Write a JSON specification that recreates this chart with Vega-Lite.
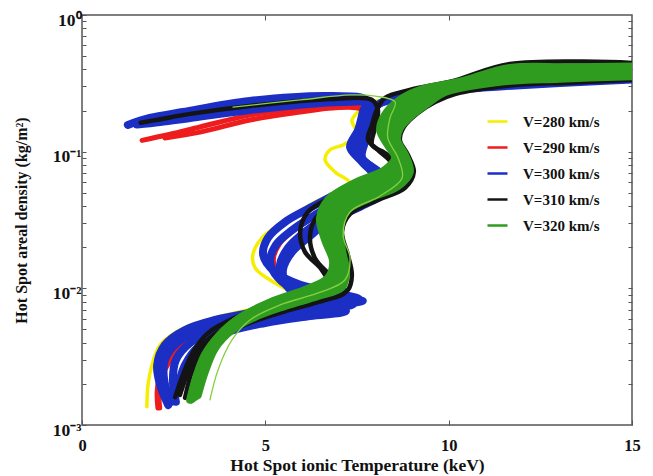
{
"$schema":"https://vega.github.io/schema/vega-lite/v6.json",
"width":550,"height":410,
"autosize":{"type":"none"},
"padding":{"left":82,"top":15,"right":21,"bottom":51},
"background":"white",
"config":{
 "view":{"stroke":"#555","strokeWidth":1.5},
 "axis":{"labelFont":"Liberation Serif","titleFont":"Liberation Serif","labelFontWeight":"bold","titleFontWeight":"bold","labelColor":"#111","titleColor":"#111","tickColor":"#555","grid":false,"domain":false},
 "legend":{"labelFont":"Liberation Serif","labelFontWeight":"bold","labelFontSize":15,"labelColor":"#111"}
},
"data":{"values":[
{"run":"Y1","V":"V=280 km/s","i":1,"T":1.77,"rho":0.00136},
{"run":"Y1","V":"V=280 km/s","i":2,"T":1.80,"rho":0.00196},
{"run":"Y1","V":"V=280 km/s","i":3,"T":1.91,"rho":0.00275},
{"run":"Y1","V":"V=280 km/s","i":4,"T":2.13,"rho":0.00385},
{"run":"Y1","V":"V=280 km/s","i":5,"T":2.67,"rho":0.00496},
{"run":"Y1","V":"V=280 km/s","i":6,"T":3.63,"rho":0.00608},
{"run":"Y1","V":"V=280 km/s","i":7,"T":4.85,"rho":0.00719},
{"run":"Y1","V":"V=280 km/s","i":8,"T":5.95,"rho":0.00795},
{"run":"Y1","V":"V=280 km/s","i":9,"T":6.63,"rho":0.0085},
{"run":"Y1","V":"V=280 km/s","i":10,"T":6.22,"rho":0.00895},
{"run":"Y1","V":"V=280 km/s","i":11,"T":5.86,"rho":0.00925},
{"run":"Y1","V":"V=280 km/s","i":12,"T":5.26,"rho":0.01095},
{"run":"Y1","V":"V=280 km/s","i":13,"T":4.72,"rho":0.0141},
{"run":"Y1","V":"V=280 km/s","i":14,"T":4.66,"rho":0.0176},
{"run":"Y1","V":"V=280 km/s","i":15,"T":4.91,"rho":0.0234},
{"run":"Y1","V":"V=280 km/s","i":16,"T":5.59,"rho":0.0317},
{"run":"Y1","V":"V=280 km/s","i":17,"T":6.22,"rho":0.0408},
{"run":"Y1","V":"V=280 km/s","i":18,"T":6.90,"rho":0.0507},
{"run":"Y1","V":"V=280 km/s","i":19,"T":7.31,"rho":0.059},
{"run":"Y1","V":"V=280 km/s","i":20,"T":6.90,"rho":0.0711},
{"run":"Y1","V":"V=280 km/s","i":21,"T":6.63,"rho":0.0869},
{"run":"Y1","V":"V=280 km/s","i":22,"T":6.76,"rho":0.103},
{"run":"Y1","V":"V=280 km/s","i":23,"T":7.15,"rho":0.113},
{"run":"Y1","V":"V=280 km/s","i":24,"T":7.50,"rho":0.135},
{"run":"Y1","V":"V=280 km/s","i":25,"T":7.36,"rho":0.168},
{"run":"Y1","V":"V=280 km/s","i":26,"T":7.48,"rho":0.19},
{"run":"Y1","V":"V=280 km/s","i":27,"T":7.80,"rho":0.225},
{"run":"Y1","V":"V=280 km/s","i":28,"T":8.60,"rho":0.245},
{"run":"Y1","V":"V=280 km/s","i":29,"T":9.60,"rho":0.28},
{"run":"Y1","V":"V=280 km/s","i":30,"T":11.40,"rho":0.33},
{"run":"Y1","V":"V=280 km/s","i":31,"T":15.0,"rho":0.370},
{"run":"R1","V":"V=290 km/s","i":1,"T":2.07,"rho":0.00133},
{"run":"R1","V":"V=290 km/s","i":2,"T":2.05,"rho":0.00175},
{"run":"R1","V":"V=290 km/s","i":3,"T":2.13,"rho":0.00232},
{"run":"R1","V":"V=290 km/s","i":4,"T":2.54,"rho":0.00354},
{"run":"R1","V":"V=290 km/s","i":5,"T":3.22,"rho":0.00472},
{"run":"R1","V":"V=290 km/s","i":6,"T":4.31,"rho":0.00587},
{"run":"R1","V":"V=290 km/s","i":7,"T":5.67,"rho":0.00756},
{"run":"R1","V":"V=290 km/s","i":8,"T":6.35,"rho":0.0091},
{"run":"R1","V":"V=290 km/s","i":9,"T":6.68,"rho":0.00973},
{"run":"R1","V":"V=290 km/s","i":10,"T":5.85,"rho":0.0100},
{"run":"R1","V":"V=290 km/s","i":11,"T":5.38,"rho":0.0121},
{"run":"R1","V":"V=290 km/s","i":12,"T":5.17,"rho":0.0158},
{"run":"R1","V":"V=290 km/s","i":13,"T":5.33,"rho":0.021},
{"run":"R1","V":"V=290 km/s","i":14,"T":5.77,"rho":0.027},
{"run":"R1","V":"V=290 km/s","i":15,"T":6.40,"rho":0.0346},
{"run":"R1","V":"V=290 km/s","i":16,"T":7.20,"rho":0.046},
{"run":"R1","V":"V=290 km/s","i":17,"T":8.00,"rho":0.0635},
{"run":"R1","V":"V=290 km/s","i":18,"T":7.75,"rho":0.080},
{"run":"R1","V":"V=290 km/s","i":19,"T":7.40,"rho":0.103},
{"run":"R1","V":"V=290 km/s","i":20,"T":7.60,"rho":0.1325},
{"run":"R1","V":"V=290 km/s","i":21,"T":7.75,"rho":0.1765},
{"run":"R1","V":"V=290 km/s","i":22,"T":7.80,"rho":0.215},
{"run":"R1","V":"V=290 km/s","i":23,"T":6.84,"rho":0.219},
{"run":"R1","V":"V=290 km/s","i":24,"T":5.95,"rho":0.209},
{"run":"R1","V":"V=290 km/s","i":25,"T":4.58,"rho":0.185},
{"run":"R1","V":"V=290 km/s","i":26,"T":3.22,"rho":0.1516},
{"run":"R1","V":"V=290 km/s","i":27,"T":2.40,"rho":0.134},
{"run":"R1","V":"V=290 km/s","i":28,"T":1.64,"rho":0.121},
{"run":"R2","V":"V=290 km/s","i":1,"T":2.12,"rho":0.00133},
{"run":"R2","V":"V=290 km/s","i":2,"T":2.10,"rho":0.00175},
{"run":"R2","V":"V=290 km/s","i":3,"T":2.20,"rho":0.00232},
{"run":"R2","V":"V=290 km/s","i":4,"T":2.62,"rho":0.00354},
{"run":"R2","V":"V=290 km/s","i":5,"T":3.30,"rho":0.00472},
{"run":"R2","V":"V=290 km/s","i":6,"T":4.40,"rho":0.00587},
{"run":"R2","V":"V=290 km/s","i":7,"T":5.75,"rho":0.00756},
{"run":"R2","V":"V=290 km/s","i":8,"T":6.40,"rho":0.0089},
{"run":"R2","V":"V=290 km/s","i":9,"T":6.72,"rho":0.0096},
{"run":"R2","V":"V=290 km/s","i":10,"T":5.90,"rho":0.0101},
{"run":"R2","V":"V=290 km/s","i":11,"T":5.43,"rho":0.0122},
{"run":"R2","V":"V=290 km/s","i":12,"T":5.22,"rho":0.0159},
{"run":"R2","V":"V=290 km/s","i":13,"T":5.38,"rho":0.0211},
{"run":"R2","V":"V=290 km/s","i":14,"T":5.82,"rho":0.0271},
{"run":"R2","V":"V=290 km/s","i":15,"T":6.45,"rho":0.0347},
{"run":"R2","V":"V=290 km/s","i":16,"T":7.25,"rho":0.0461},
{"run":"R2","V":"V=290 km/s","i":17,"T":8.05,"rho":0.0636},
{"run":"R2","V":"V=290 km/s","i":18,"T":7.80,"rho":0.080},
{"run":"R2","V":"V=290 km/s","i":19,"T":7.45,"rho":0.103},
{"run":"R2","V":"V=290 km/s","i":20,"T":7.65,"rho":0.1325},
{"run":"R2","V":"V=290 km/s","i":21,"T":7.75,"rho":0.17},
{"run":"R2","V":"V=290 km/s","i":22,"T":7.60,"rho":0.205},
{"run":"R2","V":"V=290 km/s","i":23,"T":6.84,"rho":0.209},
{"run":"R2","V":"V=290 km/s","i":24,"T":5.95,"rho":0.195},
{"run":"R2","V":"V=290 km/s","i":25,"T":4.58,"rho":0.1705},
{"run":"R2","V":"V=290 km/s","i":26,"T":3.22,"rho":0.139},
{"run":"R2","V":"V=290 km/s","i":27,"T":2.26,"rho":0.126},
{"run":"B1","V":"V=300 km/s","i":1,"T":2.35,"rho":0.0014},
{"run":"B1","V":"V=300 km/s","i":2,"T":2.13,"rho":0.00196},
{"run":"B1","V":"V=300 km/s","i":3,"T":2.05,"rho":0.00275},
{"run":"B1","V":"V=300 km/s","i":4,"T":2.26,"rho":0.00385},
{"run":"B1","V":"V=300 km/s","i":5,"T":2.81,"rho":0.00496},
{"run":"B1","V":"V=300 km/s","i":6,"T":3.63,"rho":0.00587},
{"run":"B1","V":"V=300 km/s","i":7,"T":4.58,"rho":0.0066},
{"run":"B1","V":"V=300 km/s","i":8,"T":5.95,"rho":0.00756},
{"run":"B1","V":"V=300 km/s","i":9,"T":7.04,"rho":0.00822},
{"run":"B1","V":"V=300 km/s","i":10,"T":7.55,"rho":0.00836},
{"run":"B1","V":"V=300 km/s","i":11,"T":7.04,"rho":0.0091},
{"run":"B1","V":"V=300 km/s","i":12,"T":5.95,"rho":0.0106},
{"run":"B1","V":"V=300 km/s","i":13,"T":5.26,"rho":0.0132},
{"run":"B1","V":"V=300 km/s","i":14,"T":4.94,"rho":0.0176},
{"run":"B1","V":"V=300 km/s","i":15,"T":5.07,"rho":0.0234},
{"run":"B1","V":"V=300 km/s","i":16,"T":5.54,"rho":0.0306},
{"run":"B1","V":"V=300 km/s","i":17,"T":6.22,"rho":0.0388},
{"run":"B1","V":"V=300 km/s","i":18,"T":7.04,"rho":0.0507},
{"run":"B1","V":"V=300 km/s","i":19,"T":7.91,"rho":0.0676},
{"run":"B1","V":"V=300 km/s","i":20,"T":7.64,"rho":0.084},
{"run":"B1","V":"V=300 km/s","i":21,"T":7.31,"rho":0.108},
{"run":"B1","V":"V=300 km/s","i":22,"T":7.53,"rho":0.144},
{"run":"B1","V":"V=300 km/s","i":23,"T":7.66,"rho":0.195},
{"run":"B1","V":"V=300 km/s","i":24,"T":7.74,"rho":0.239},
{"run":"B1","V":"V=300 km/s","i":25,"T":6.84,"rho":0.255},
{"run":"B1","V":"V=300 km/s","i":26,"T":4.58,"rho":0.235},
{"run":"B1","V":"V=300 km/s","i":27,"T":2.75,"rho":0.195},
{"run":"B1","V":"V=300 km/s","i":28,"T":1.85,"rho":0.1765},
{"run":"B1","V":"V=300 km/s","i":29,"T":1.25,"rho":0.157},
{"run":"B2","V":"V=300 km/s","i":1,"T":2.40,"rho":0.00153},
{"run":"B2","V":"V=300 km/s","i":2,"T":2.24,"rho":0.00214},
{"run":"B2","V":"V=300 km/s","i":3,"T":2.26,"rho":0.00299},
{"run":"B2","V":"V=300 km/s","i":4,"T":2.62,"rho":0.00405},
{"run":"B2","V":"V=300 km/s","i":5,"T":3.35,"rho":0.00513},
{"run":"B2","V":"V=300 km/s","i":6,"T":4.72,"rho":0.00608},
{"run":"B2","V":"V=300 km/s","i":7,"T":5.95,"rho":0.00695},
{"run":"B2","V":"V=300 km/s","i":8,"T":7.17,"rho":0.00769},
{"run":"B2","V":"V=300 km/s","i":9,"T":7.66,"rho":0.0081},
{"run":"B2","V":"V=300 km/s","i":10,"T":6.76,"rho":0.0085},
{"run":"B2","V":"V=300 km/s","i":11,"T":5.81,"rho":0.00973},
{"run":"B2","V":"V=300 km/s","i":12,"T":5.35,"rho":0.0119},
{"run":"B2","V":"V=300 km/s","i":13,"T":5.13,"rho":0.0156},
{"run":"B2","V":"V=300 km/s","i":14,"T":5.29,"rho":0.0208},
{"run":"B2","V":"V=300 km/s","i":15,"T":5.73,"rho":0.0267},
{"run":"B2","V":"V=300 km/s","i":16,"T":6.35,"rho":0.0344},
{"run":"B2","V":"V=300 km/s","i":17,"T":7.17,"rho":0.0458},
{"run":"B2","V":"V=300 km/s","i":18,"T":8.07,"rho":0.0642},
{"run":"B2","V":"V=300 km/s","i":19,"T":7.80,"rho":0.080},
{"run":"B2","V":"V=300 km/s","i":20,"T":7.42,"rho":0.103},
{"run":"B2","V":"V=300 km/s","i":21,"T":7.64,"rho":0.1325},
{"run":"B2","V":"V=300 km/s","i":22,"T":7.80,"rho":0.1765},
{"run":"B2","V":"V=300 km/s","i":23,"T":7.91,"rho":0.223},
{"run":"B2","V":"V=300 km/s","i":24,"T":7.04,"rho":0.231},
{"run":"B2","V":"V=300 km/s","i":25,"T":4.58,"rho":0.202},
{"run":"B2","V":"V=300 km/s","i":26,"T":2.95,"rho":0.1765},
{"run":"B2","V":"V=300 km/s","i":27,"T":2.13,"rho":0.165},
{"run":"B2","V":"V=300 km/s","i":28,"T":1.50,"rho":0.158},
{"run":"B4","V":"V=300 km/s","i":1,"T":2.45,"rho":0.00148},
{"run":"B4","V":"V=300 km/s","i":2,"T":2.62,"rho":0.00196},
{"run":"B4","V":"V=300 km/s","i":3,"T":2.81,"rho":0.00275},
{"run":"B4","V":"V=300 km/s","i":4,"T":3.14,"rho":0.00366},
{"run":"B4","V":"V=300 km/s","i":5,"T":3.90,"rho":0.00472},
{"run":"B4","V":"V=300 km/s","i":6,"T":4.99,"rho":0.00558},
{"run":"B4","V":"V=300 km/s","i":7,"T":6.22,"rho":0.00628},
{"run":"B4","V":"V=300 km/s","i":8,"T":7.20,"rho":0.00683},
{"run":"B4","V":"V=300 km/s","i":9,"T":6.76,"rho":0.00782},
{"run":"B4","V":"V=300 km/s","i":10,"T":5.95,"rho":0.0088},
{"run":"B4","V":"V=300 km/s","i":11,"T":5.59,"rho":0.0104},
{"run":"B4","V":"V=300 km/s","i":12,"T":5.48,"rho":0.01364},
{"run":"B4","V":"V=300 km/s","i":13,"T":5.73,"rho":0.0185},
{"run":"B4","V":"V=300 km/s","i":14,"T":6.22,"rho":0.0242},
{"run":"B4","V":"V=300 km/s","i":15,"T":6.76,"rho":0.0317},
{"run":"B4","V":"V=300 km/s","i":16,"T":7.58,"rho":0.0394},
{"run":"B4","V":"V=300 km/s","i":17,"T":8.40,"rho":0.0543},
{"run":"B4","V":"V=300 km/s","i":18,"T":8.13,"rho":0.0699},
{"run":"B4","V":"V=300 km/s","i":19,"T":7.64,"rho":0.090},
{"run":"B4","V":"V=300 km/s","i":20,"T":7.74,"rho":0.122},
{"run":"B4","V":"V=300 km/s","i":21,"T":7.91,"rho":0.165},
{"run":"B4","V":"V=300 km/s","i":22,"T":8.02,"rho":0.216},
{"run":"B4","V":"V=300 km/s","i":23,"T":8.67,"rho":0.247},
{"run":"B4","V":"V=300 km/s","i":24,"T":9.76,"rho":0.28},
{"run":"B4","V":"V=300 km/s","i":25,"T":11.40,"rho":0.33},
{"run":"B4","V":"V=300 km/s","i":26,"T":15.0,"rho":0.36},
{"run":"B3","V":"V=300 km/s","i":1,"T":2.56,"rho":0.00148},
{"run":"B3","V":"V=300 km/s","i":2,"T":2.48,"rho":0.00214},
{"run":"B3","V":"V=300 km/s","i":3,"T":2.56,"rho":0.00299},
{"run":"B3","V":"V=300 km/s","i":4,"T":2.95,"rho":0.00399},
{"run":"B3","V":"V=300 km/s","i":5,"T":3.76,"rho":0.00513},
{"run":"B3","V":"V=300 km/s","i":6,"T":4.99,"rho":0.00587},
{"run":"B3","V":"V=300 km/s","i":7,"T":6.22,"rho":0.0066},
{"run":"B3","V":"V=300 km/s","i":8,"T":7.10,"rho":0.00731},
{"run":"B3","V":"V=300 km/s","i":9,"T":7.40,"rho":0.00769},
{"run":"B3","V":"V=300 km/s","i":10,"T":6.90,"rho":0.00865},
{"run":"B3","V":"V=300 km/s","i":11,"T":5.95,"rho":0.0094},
{"run":"B3","V":"V=300 km/s","i":12,"T":5.54,"rho":0.0111},
{"run":"B3","V":"V=300 km/s","i":13,"T":5.40,"rho":0.0148},
{"run":"B3","V":"V=300 km/s","i":14,"T":5.62,"rho":0.0198},
{"run":"B3","V":"V=300 km/s","i":15,"T":6.08,"rho":0.0259},
{"run":"B3","V":"V=300 km/s","i":16,"T":6.63,"rho":0.0327},
{"run":"B3","V":"V=300 km/s","i":17,"T":7.44,"rho":0.0421},
{"run":"B3","V":"V=300 km/s","i":18,"T":8.26,"rho":0.057},
{"run":"B3","V":"V=300 km/s","i":19,"T":7.99,"rho":0.0735},
{"run":"B3","V":"V=300 km/s","i":20,"T":7.53,"rho":0.0946},
{"run":"B3","V":"V=300 km/s","i":21,"T":7.66,"rho":0.126},
{"run":"B3","V":"V=300 km/s","i":22,"T":7.85,"rho":0.171},
{"run":"B3","V":"V=300 km/s","i":23,"T":8.07,"rho":0.22},
{"run":"B3","V":"V=300 km/s","i":24,"T":8.67,"rho":0.255},
{"run":"B3","V":"V=300 km/s","i":25,"T":9.76,"rho":0.278},
{"run":"B3","V":"V=300 km/s","i":26,"T":11.40,"rho":0.30},
{"run":"B3","V":"V=300 km/s","i":27,"T":13.03,"rho":0.318},
{"run":"B3","V":"V=300 km/s","i":28,"T":15.0,"rho":0.338},
{"run":"K1","V":"V=310 km/s","i":1,"T":2.54,"rho":0.0016},
{"run":"K1","V":"V=310 km/s","i":2,"T":2.75,"rho":0.00232},
{"run":"K1","V":"V=310 km/s","i":3,"T":3.03,"rho":0.00343},
{"run":"K1","V":"V=310 km/s","i":4,"T":3.44,"rho":0.00472},
{"run":"K1","V":"V=310 km/s","i":5,"T":4.17,"rho":0.00608},
{"run":"K1","V":"V=310 km/s","i":6,"T":5.13,"rho":0.00756},
{"run":"K1","V":"V=310 km/s","i":7,"T":6.08,"rho":0.00865},
{"run":"K1","V":"V=310 km/s","i":8,"T":6.76,"rho":0.0101},
{"run":"K1","V":"V=310 km/s","i":9,"T":6.54,"rho":0.01364},
{"run":"K1","V":"V=310 km/s","i":10,"T":6.08,"rho":0.0185},
{"run":"K1","V":"V=310 km/s","i":11,"T":5.95,"rho":0.0259},
{"run":"K1","V":"V=310 km/s","i":12,"T":6.16,"rho":0.0362},
{"run":"K1","V":"V=310 km/s","i":13,"T":6.76,"rho":0.0458},
{"run":"K1","V":"V=310 km/s","i":14,"T":7.72,"rho":0.060},
{"run":"K1","V":"V=310 km/s","i":15,"T":8.45,"rho":0.080},
{"run":"K1","V":"V=310 km/s","i":16,"T":8.07,"rho":0.103},
{"run":"K1","V":"V=310 km/s","i":17,"T":7.80,"rho":0.122},
{"run":"K1","V":"V=310 km/s","i":18,"T":7.91,"rho":0.157},
{"run":"K1","V":"V=310 km/s","i":19,"T":8.04,"rho":0.202},
{"run":"K1","V":"V=310 km/s","i":20,"T":8.26,"rho":0.247},
{"run":"K1","V":"V=310 km/s","i":21,"T":8.94,"rho":0.283},
{"run":"K1","V":"V=310 km/s","i":22,"T":10.10,"rho":0.328},
{"run":"K1","V":"V=310 km/s","i":23,"T":11.67,"rho":0.438},
{"run":"K1","V":"V=310 km/s","i":24,"T":15.0,"rho":0.446},
{"run":"K2","V":"V=310 km/s","i":1,"T":2.67,"rho":0.00166},
{"run":"K2","V":"V=310 km/s","i":2,"T":2.92,"rho":0.00253},
{"run":"K2","V":"V=310 km/s","i":3,"T":3.22,"rho":0.00366},
{"run":"K2","V":"V=310 km/s","i":4,"T":3.71,"rho":0.0048},
{"run":"K2","V":"V=310 km/s","i":5,"T":4.58,"rho":0.00608},
{"run":"K2","V":"V=310 km/s","i":6,"T":5.67,"rho":0.00719},
{"run":"K2","V":"V=310 km/s","i":7,"T":6.63,"rho":0.00822},
{"run":"K2","V":"V=310 km/s","i":8,"T":7.17,"rho":0.0094},
{"run":"K2","V":"V=310 km/s","i":9,"T":6.76,"rho":0.0125},
{"run":"K2","V":"V=310 km/s","i":10,"T":6.35,"rho":0.0167},
{"run":"K2","V":"V=310 km/s","i":11,"T":6.22,"rho":0.0246},
{"run":"K2","V":"V=310 km/s","i":12,"T":6.44,"rho":0.0344},
{"run":"K2","V":"V=310 km/s","i":13,"T":7.17,"rho":0.0443},
{"run":"K2","V":"V=310 km/s","i":14,"T":8.13,"rho":0.057},
{"run":"K2","V":"V=310 km/s","i":15,"T":8.67,"rho":0.076},
{"run":"K2","V":"V=310 km/s","i":16,"T":8.26,"rho":0.0978},
{"run":"K2","V":"V=310 km/s","i":17,"T":7.91,"rho":0.112},
{"run":"K2","V":"V=310 km/s","i":18,"T":7.99,"rho":0.149},
{"run":"K2","V":"V=310 km/s","i":19,"T":8.07,"rho":0.202},
{"run":"K2","V":"V=310 km/s","i":20,"T":7.91,"rho":0.239},
{"run":"K2","V":"V=310 km/s","i":21,"T":6.84,"rho":0.243},
{"run":"K2","V":"V=310 km/s","i":22,"T":4.58,"rho":0.216},
{"run":"K2","V":"V=310 km/s","i":23,"T":2.95,"rho":0.189},
{"run":"K2","V":"V=310 km/s","i":24,"T":2.10,"rho":0.172},
{"run":"K2","V":"V=310 km/s","i":25,"T":1.60,"rho":0.163},
{"run":"K3","V":"V=310 km/s","i":1,"T":2.81,"rho":0.00158},
{"run":"K3","V":"V=310 km/s","i":2,"T":3.00,"rho":0.00245},
{"run":"K3","V":"V=310 km/s","i":3,"T":3.30,"rho":0.00354},
{"run":"K3","V":"V=310 km/s","i":4,"T":3.82,"rho":0.00456},
{"run":"K3","V":"V=310 km/s","i":5,"T":4.64,"rho":0.00567},
{"run":"K3","V":"V=310 km/s","i":6,"T":5.67,"rho":0.00695},
{"run":"K3","V":"V=310 km/s","i":7,"T":6.63,"rho":0.00822},
{"run":"K3","V":"V=310 km/s","i":8,"T":7.25,"rho":0.00973},
{"run":"K3","V":"V=310 km/s","i":9,"T":7.36,"rho":0.0125},
{"run":"K3","V":"V=310 km/s","i":10,"T":7.25,"rho":0.0176},
{"run":"K3","V":"V=310 km/s","i":11,"T":7.09,"rho":0.0259},
{"run":"K3","V":"V=310 km/s","i":12,"T":7.31,"rho":0.035},
{"run":"K3","V":"V=310 km/s","i":13,"T":8.07,"rho":0.0443},
{"run":"K3","V":"V=310 km/s","i":14,"T":8.81,"rho":0.0543},
{"run":"K3","V":"V=310 km/s","i":15,"T":9.05,"rho":0.0711},
{"run":"K3","V":"V=310 km/s","i":16,"T":8.89,"rho":0.0946},
{"run":"K3","V":"V=310 km/s","i":17,"T":8.67,"rho":0.122},
{"run":"K3","V":"V=310 km/s","i":18,"T":8.78,"rho":0.152},
{"run":"K3","V":"V=310 km/s","i":19,"T":9.16,"rho":0.192},
{"run":"K3","V":"V=310 km/s","i":20,"T":9.63,"rho":0.231},
{"run":"K3","V":"V=310 km/s","i":21,"T":10.17,"rho":0.264},
{"run":"K3","V":"V=310 km/s","i":22,"T":11.67,"rho":0.305},
{"run":"K3","V":"V=310 km/s","i":23,"T":13.30,"rho":0.32},
{"run":"K3","V":"V=310 km/s","i":24,"T":15.0,"rho":0.336},
{"run":"G1","V":"V=320 km/s","i":1,"T":3.03,"rho":0.00158},
{"run":"G1","V":"V=320 km/s","i":2,"T":3.22,"rho":0.00232},
{"run":"G1","V":"V=320 km/s","i":3,"T":3.49,"rho":0.00354},
{"run":"G1","V":"V=320 km/s","i":4,"T":3.90,"rho":0.00496},
{"run":"G1","V":"V=320 km/s","i":5,"T":4.45,"rho":0.00638},
{"run":"G1","V":"V=320 km/s","i":6,"T":5.26,"rho":0.00795},
{"run":"G1","V":"V=320 km/s","i":7,"T":6.22,"rho":0.00941},
{"run":"G1","V":"V=320 km/s","i":8,"T":6.90,"rho":0.01114},
{"run":"G1","V":"V=320 km/s","i":9,"T":7.09,"rho":0.0141},
{"run":"G1","V":"V=320 km/s","i":10,"T":6.95,"rho":0.0208},
{"run":"G1","V":"V=320 km/s","i":11,"T":6.76,"rho":0.0306},
{"run":"G1","V":"V=320 km/s","i":12,"T":6.90,"rho":0.0407},
{"run":"G1","V":"V=320 km/s","i":13,"T":7.58,"rho":0.0525},
{"run":"G1","V":"V=320 km/s","i":14,"T":8.40,"rho":0.0642},
{"run":"G1","V":"V=320 km/s","i":15,"T":8.75,"rho":0.080},
{"run":"G1","V":"V=320 km/s","i":16,"T":8.62,"rho":0.103},
{"run":"G1","V":"V=320 km/s","i":17,"T":8.34,"rho":0.1325},
{"run":"G1","V":"V=320 km/s","i":18,"T":8.45,"rho":0.165},
{"run":"G1","V":"V=320 km/s","i":19,"T":8.81,"rho":0.202},
{"run":"G1","V":"V=320 km/s","i":20,"T":9.22,"rho":0.251},
{"run":"G1","V":"V=320 km/s","i":21,"T":9.76,"rho":0.288},
{"run":"G1","V":"V=320 km/s","i":22,"T":10.85,"rho":0.329},
{"run":"G1","V":"V=320 km/s","i":23,"T":11.67,"rho":0.370},
{"run":"G1","V":"V=320 km/s","i":24,"T":13.30,"rho":0.378},
{"run":"G1","V":"V=320 km/s","i":25,"T":15.0,"rho":0.386},
{"run":"G2","V":"V=320 km/s","i":1,"T":2.95,"rho":0.00153},
{"run":"G2","V":"V=320 km/s","i":2,"T":3.11,"rho":0.00221},
{"run":"G2","V":"V=320 km/s","i":3,"T":3.35,"rho":0.00326},
{"run":"G2","V":"V=320 km/s","i":4,"T":3.76,"rho":0.00456},
{"run":"G2","V":"V=320 km/s","i":5,"T":4.31,"rho":0.00608},
{"run":"G2","V":"V=320 km/s","i":6,"T":5.13,"rho":0.0079},
{"run":"G2","V":"V=320 km/s","i":7,"T":6.08,"rho":0.00973},
{"run":"G2","V":"V=320 km/s","i":8,"T":6.71,"rho":0.0119},
{"run":"G2","V":"V=320 km/s","i":9,"T":6.85,"rho":0.0156},
{"run":"G2","V":"V=320 km/s","i":10,"T":6.63,"rho":0.0226},
{"run":"G2","V":"V=320 km/s","i":11,"T":6.49,"rho":0.0327},
{"run":"G2","V":"V=320 km/s","i":12,"T":6.71,"rho":0.0443},
{"run":"G2","V":"V=320 km/s","i":13,"T":7.44,"rho":0.059},
{"run":"G2","V":"V=320 km/s","i":14,"T":8.26,"rho":0.0735},
{"run":"G2","V":"V=320 km/s","i":15,"T":8.54,"rho":0.090},
{"run":"G2","V":"V=320 km/s","i":16,"T":8.34,"rho":0.112},
{"run":"G2","V":"V=320 km/s","i":17,"T":8.13,"rho":0.144},
{"run":"G2","V":"V=320 km/s","i":18,"T":8.26,"rho":0.1855},
{"run":"G2","V":"V=320 km/s","i":19,"T":8.67,"rho":0.239},
{"run":"G2","V":"V=320 km/s","i":20,"T":9.22,"rho":0.283},
{"run":"G2","V":"V=320 km/s","i":21,"T":10.31,"rho":0.325},
{"run":"G2","V":"V=320 km/s","i":22,"T":11.67,"rho":0.41},
{"run":"G2","V":"V=320 km/s","i":23,"T":13.30,"rho":0.415},
{"run":"G2","V":"V=320 km/s","i":24,"T":15.0,"rho":0.42},
{"run":"G6","V":"V=320 km/s","i":1,"T":2.99,"rho":0.00155},
{"run":"G6","V":"V=320 km/s","i":2,"T":3.16,"rho":0.00226},
{"run":"G6","V":"V=320 km/s","i":3,"T":3.42,"rho":0.0034},
{"run":"G6","V":"V=320 km/s","i":4,"T":3.83,"rho":0.00476},
{"run":"G6","V":"V=320 km/s","i":5,"T":4.38,"rho":0.00623},
{"run":"G6","V":"V=320 km/s","i":6,"T":5.20,"rho":0.00792},
{"run":"G6","V":"V=320 km/s","i":7,"T":6.15,"rho":0.00957},
{"run":"G6","V":"V=320 km/s","i":8,"T":6.80,"rho":0.0116},
{"run":"G6","V":"V=320 km/s","i":9,"T":6.97,"rho":0.0148},
{"run":"G6","V":"V=320 km/s","i":10,"T":6.79,"rho":0.0217},
{"run":"G6","V":"V=320 km/s","i":11,"T":6.62,"rho":0.0316},
{"run":"G6","V":"V=320 km/s","i":12,"T":6.80,"rho":0.0425},
{"run":"G6","V":"V=320 km/s","i":13,"T":7.51,"rho":0.0557},
{"run":"G6","V":"V=320 km/s","i":14,"T":8.33,"rho":0.0688},
{"run":"G6","V":"V=320 km/s","i":15,"T":8.64,"rho":0.085},
{"run":"G6","V":"V=320 km/s","i":16,"T":8.48,"rho":0.1075},
{"run":"G6","V":"V=320 km/s","i":17,"T":8.23,"rho":0.138},
{"run":"G6","V":"V=320 km/s","i":18,"T":8.35,"rho":0.175},
{"run":"G6","V":"V=320 km/s","i":19,"T":8.74,"rho":0.22},
{"run":"G6","V":"V=320 km/s","i":20,"T":9.22,"rho":0.267},
{"run":"G6","V":"V=320 km/s","i":21,"T":10.50,"rho":0.33},
{"run":"G6","V":"V=320 km/s","i":22,"T":11.67,"rho":0.39},
{"run":"G6","V":"V=320 km/s","i":23,"T":13.30,"rho":0.398},
{"run":"G6","V":"V=320 km/s","i":24,"T":15.0,"rho":0.404},
{"run":"G5","V":"V=320 km/s","i":1,"T":3.10,"rho":0.00162},
{"run":"G5","V":"V=320 km/s","i":2,"T":3.28,"rho":0.00238},
{"run":"G5","V":"V=320 km/s","i":3,"T":3.56,"rho":0.0036},
{"run":"G5","V":"V=320 km/s","i":4,"T":4.00,"rho":0.00496},
{"run":"G5","V":"V=320 km/s","i":5,"T":4.58,"rho":0.00628},
{"run":"G5","V":"V=320 km/s","i":6,"T":5.40,"rho":0.0077},
{"run":"G5","V":"V=320 km/s","i":7,"T":6.33,"rho":0.0091},
{"run":"G5","V":"V=320 km/s","i":8,"T":7.00,"rho":0.0107},
{"run":"G5","V":"V=320 km/s","i":9,"T":7.15,"rho":0.0137},
{"run":"G5","V":"V=320 km/s","i":10,"T":7.02,"rho":0.0199},
{"run":"G5","V":"V=320 km/s","i":11,"T":6.90,"rho":0.029},
{"run":"G5","V":"V=320 km/s","i":12,"T":7.03,"rho":0.0385},
{"run":"G5","V":"V=320 km/s","i":13,"T":7.72,"rho":0.049},
{"run":"G5","V":"V=320 km/s","i":14,"T":8.51,"rho":0.060},
{"run":"G5","V":"V=320 km/s","i":15,"T":8.85,"rho":0.0755},
{"run":"G5","V":"V=320 km/s","i":16,"T":8.72,"rho":0.099},
{"run":"G5","V":"V=320 km/s","i":17,"T":8.47,"rho":0.127},
{"run":"G5","V":"V=320 km/s","i":18,"T":8.56,"rho":0.157},
{"run":"G5","V":"V=320 km/s","i":19,"T":8.90,"rho":0.194},
{"run":"G5","V":"V=320 km/s","i":20,"T":9.33,"rho":0.239},
{"run":"G5","V":"V=320 km/s","i":21,"T":9.83,"rho":0.28},
{"run":"G5","V":"V=320 km/s","i":22,"T":11.40,"rho":0.345},
{"run":"G5","V":"V=320 km/s","i":23,"T":13.20,"rho":0.358},
{"run":"G5","V":"V=320 km/s","i":24,"T":15.0,"rho":0.37},
{"run":"G3","V":"V=320 km/s","i":1,"T":3.16,"rho":0.00166},
{"run":"G3","V":"V=320 km/s","i":2,"T":3.35,"rho":0.00245},
{"run":"G3","V":"V=320 km/s","i":3,"T":3.63,"rho":0.00366},
{"run":"G3","V":"V=320 km/s","i":4,"T":4.09,"rho":0.00496},
{"run":"G3","V":"V=320 km/s","i":5,"T":4.72,"rho":0.00618},
{"run":"G3","V":"V=320 km/s","i":6,"T":5.54,"rho":0.00743},
{"run":"G3","V":"V=320 km/s","i":7,"T":6.44,"rho":0.0088},
{"run":"G3","V":"V=320 km/s","i":8,"T":7.09,"rho":0.0102},
{"run":"G3","V":"V=320 km/s","i":9,"T":7.20,"rho":0.0132},
{"run":"G3","V":"V=320 km/s","i":10,"T":7.09,"rho":0.0191},
{"run":"G3","V":"V=320 km/s","i":11,"T":7.04,"rho":0.0277},
{"run":"G3","V":"V=320 km/s","i":12,"T":7.17,"rho":0.0362},
{"run":"G3","V":"V=320 km/s","i":13,"T":7.85,"rho":0.0458},
{"run":"G3","V":"V=320 km/s","i":14,"T":8.62,"rho":0.0561},
{"run":"G3","V":"V=320 km/s","i":15,"T":8.94,"rho":0.0711},
{"run":"G3","V":"V=320 km/s","i":16,"T":8.81,"rho":0.0946},
{"run":"G3","V":"V=320 km/s","i":17,"T":8.59,"rho":0.122},
{"run":"G3","V":"V=320 km/s","i":18,"T":8.67,"rho":0.149},
{"run":"G3","V":"V=320 km/s","i":19,"T":9.00,"rho":0.1855},
{"run":"G3","V":"V=320 km/s","i":20,"T":9.44,"rho":0.227},
{"run":"G3","V":"V=320 km/s","i":21,"T":9.90,"rho":0.273},
{"run":"G3","V":"V=320 km/s","i":22,"T":11.40,"rho":0.325},
{"run":"G3","V":"V=320 km/s","i":23,"T":13.03,"rho":0.342},
{"run":"G3","V":"V=320 km/s","i":24,"T":15.0,"rho":0.356},
{"run":"G4","V":"V=320 km/s","i":1,"T":3.49,"rho":0.00153},
{"run":"G4","V":"V=320 km/s","i":2,"T":3.71,"rho":0.00253},
{"run":"G4","V":"V=320 km/s","i":3,"T":4.09,"rho":0.00419},
{"run":"G4","V":"V=320 km/s","i":4,"T":4.58,"rho":0.00587},
{"run":"G4","V":"V=320 km/s","i":5,"T":5.40,"rho":0.00756},
{"run":"G4","V":"V=320 km/s","i":6,"T":6.44,"rho":0.00925},
{"run":"G4","V":"V=320 km/s","i":7,"T":7.17,"rho":0.01151},
{"run":"G4","V":"V=320 km/s","i":8,"T":7.31,"rho":0.0167},
{"run":"G4","V":"V=320 km/s","i":9,"T":7.12,"rho":0.0246},
{"run":"G4","V":"V=320 km/s","i":10,"T":7.31,"rho":0.0362},
{"run":"G4","V":"V=320 km/s","i":11,"T":8.13,"rho":0.0474},
{"run":"G4","V":"V=320 km/s","i":12,"T":8.73,"rho":0.0642},
{"run":"G4","V":"V=320 km/s","i":13,"T":8.62,"rho":0.090},
{"run":"G4","V":"V=320 km/s","i":14,"T":8.34,"rho":0.126},
{"run":"G4","V":"V=320 km/s","i":15,"T":8.40,"rho":0.1765},
{"run":"G4","V":"V=320 km/s","i":16,"T":8.54,"rho":0.231},
{"run":"G4","V":"V=320 km/s","i":17,"T":7.99,"rho":0.255},
{"run":"G4","V":"V=320 km/s","i":18,"T":7.31,"rho":0.26},
{"run":"G4","V":"V=320 km/s","i":19,"T":5.95,"rho":0.239},
{"run":"G4","V":"V=320 km/s","i":20,"T":4.12,"rho":0.212}
]},
"layer":[
 {
  "encoding":{
   "x":{"field":"T","type":"quantitative","scale":{"domain":[0,15],"nice":false,"zero":false},
        "axis":{"orient":"bottom","values":[0,5,10,15],"tickSize":-5,"labelPadding":17,"labelFontSize":16.5,"title":"Hot Spot ionic Temperature (keV)","titleFontSize":17.5,"titlePadding":3,"labelFlush":false}},
   "y":{"field":"rho","type":"quantitative","scale":{"type":"log","domain":[0.001,1],"nice":false},
        "axis":{"orient":"left","values":[0.001,0.002,0.003,0.004,0.005,0.006,0.007,0.008,0.009,0.01,0.02,0.03,0.04,0.05,0.06,0.07,0.08,0.09,0.1,0.2,0.3,0.4,0.5,0.6,0.7,0.8,0.9,1],
        "labelExpr":"datum.value == 1 ? '10⁰' : datum.value == 0.1 ? '10⁻¹' : datum.value == 0.01 ? '10⁻²' : datum.value == 0.001 ? '10⁻³' : ''",
        "labelOverlap":false,"tickSize":-4,"labelPadding":5,"labelOffset":5,"labelFontSize":17.5,"title":"Hot Spot areal density (kg/m²)","titleFontSize":16,"titlePadding":23,"labelFlush":false}},
   "color":{"field":"V","type":"nominal","scale":{"domain":["V=280 km/s","V=290 km/s","V=300 km/s","V=310 km/s","V=320 km/s"],"range":["#f5ee00","#ee1c1c","#1b2fc4","#141414","#2f9c20"]},
        "legend":{"title":null,"orient":"none","legendX":404,"legendY":95,"symbolType":"stroke","symbolSize":400,"symbolStrokeWidth":2.5,"rowPadding":6,"labelOffset":14,"padding":0}},
   "detail":{"field":"run"},
   "order":{"field":"i","type":"quantitative"}
  },
  "layer":[
   {"transform":[{"filter":"datum.V == 'V=280 km/s'"}],"mark":{"type":"line","strokeWidth":3.5,"interpolate":"catmull-rom","strokeCap":"round","strokeJoin":"round","clip":true}},
   {"transform":[{"filter":"datum.V == 'V=290 km/s'"}],"mark":{"type":"line","strokeWidth":5,"interpolate":"catmull-rom","strokeCap":"round","strokeJoin":"round","clip":true}},
   {"transform":[{"filter":"datum.V == 'V=300 km/s'"}],"mark":{"type":"line","strokeWidth":8,"interpolate":"catmull-rom","strokeCap":"round","strokeJoin":"round","clip":true}},
   {"transform":[{"filter":"datum.V == 'V=310 km/s'"}],"mark":{"type":"line","strokeWidth":4.5,"interpolate":"catmull-rom","strokeCap":"round","strokeJoin":"round","clip":true}},
   {"transform":[{"filter":"datum.V == 'V=320 km/s' && datum.run != 'G4'"}],"mark":{"type":"line","strokeWidth":8,"interpolate":"catmull-rom","strokeCap":"round","strokeJoin":"round","clip":true}},
   {"transform":[{"filter":"datum.run == 'G4'"}],"mark":{"type":"line","strokeWidth":1.3,"interpolate":"catmull-rom","strokeCap":"round","clip":true},"encoding":{"color":{"value":"#86d044"}}}
  ]
 },
 {
  "mark":{"type":"point","opacity":0},
  "encoding":{
   "x":{"field":"T","type":"quantitative","scale":{"domain":[0,15],"nice":false,"zero":false},
        "axis":{"orient":"top","values":[5,10],"tickSize":-5,"labels":false,"title":null}},
   "y":{"field":"rho","type":"quantitative","scale":{"type":"log","domain":[0.001,1],"nice":false},
        "axis":{"orient":"right","values":[0.002,0.003,0.004,0.005,0.006,0.007,0.008,0.009,0.01,0.02,0.03,0.04,0.05,0.06,0.07,0.08,0.09,0.1,0.2,0.3,0.4,0.5,0.6,0.7,0.8,0.9],"tickSize":-4,"labels":false,"title":null}}
  }
 }
],
"resolve":{"axis":{"x":"independent","y":"independent"}}
}
